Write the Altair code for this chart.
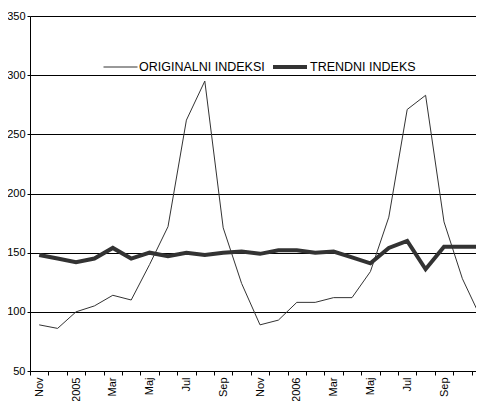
import altair as alt
import pandas as pd

month_labels = ["Nov", "Dec", "2005", "Feb", "Mar", "Apr", "Maj", "Jun", "Jul", "Avg",
                "Sep", "Okt", "Nov", "Dec", "2006", "Feb", "Mar", "Apr", "Maj", "Jun",
                "Jul", "Avg", "Sep", "Okt", "Nov"]
original = [89, 86, 100, 105, 114, 110, 140, 172, 262, 295, 171, 124, 89, 93, 108, 108,
            112, 112, 134, 180, 271, 283, 176, 128, 95]
trend = [148, 145, 142, 145, 154, 145, 150, 147, 150, 148, 150, 151, 149, 152, 152, 150,
         151, 146, 141, 154, 160, 136, 155, 155, 155]
series_names = ["ORIGINALNI INDEKSI", "TRENDNI INDEKS"]
y_ticks = [50, 100, 150, 200, 250, 300, 350]

rows = []
for i in range(len(month_labels)):
    rows.append({"idx": i, "series": series_names[0], "value": original[i]})
    rows.append({"idx": i, "series": series_names[1], "value": trend[i]})
df = pd.DataFrame(rows)

n = len(month_labels)
label_values = list(range(0, n, 2))
tick_values = [i - 0.5 for i in range(n + 1)]
tick_df = pd.DataFrame({"pos": tick_values})
label_expr = "[" + ",".join("'" + s + "'" for s in month_labels) + "][datum.value]"

FONT = "Liberation Sans"
PLOT_W = 446
STEP = 18.4
xs = alt.Scale(domain=[-0.5, -0.5 + PLOT_W / STEP], nice=False, zero=False)

lines = alt.Chart(df).mark_line(color="#333333", clip=True, strokeJoin="miter").encode(
    x=alt.X("idx:Q", scale=xs,
            axis=alt.Axis(title=None, orient="bottom", values=label_values,
                          labelExpr=label_expr, labelAngle=-90, ticks=False,
                          domainColor="#000000", labelColor="#000000", labelFontSize=11,
                          labelFont=FONT, labelPadding=6, grid=False, labelAlign="right",
                          labelBaseline="middle", labelFlush=False, labelOverlap=False,
                          labelBound=False)),
    y=alt.Y("value:Q",
            scale=alt.Scale(domain=[50, 350], nice=False, zero=False),
            axis=alt.Axis(title=None, values=y_ticks, tickSize=3, tickColor="#000000",
                          domainColor="#000000", labelColor="#000000", labelFontSize=11,
                          labelFont=FONT, labelPadding=2, grid=True, gridColor="#000000",
                          gridOpacity=1, gridWidth=1)),
    strokeWidth=alt.StrokeWidth("series:N",
            scale=alt.Scale(domain=series_names, range=[1, 4]),
            legend=alt.Legend(title=None, orient="none", legendX=73, legendY=32,
                              direction="horizontal", symbolType="stroke", symbolSize=1156,
                              symbolStrokeColor="#333333", labelFontSize=12.5,
                              labelFont=FONT, labelColor="#000000", labelOffset=1,
                              columnPadding=0, padding=0)),
    detail="series:N",
)

ticks = alt.Chart(tick_df).mark_point(opacity=0).encode(
    x=alt.X("pos:Q", scale=xs,
            axis=alt.Axis(title=None, orient="bottom", values=tick_values, labels=False,
                          tickSize=4, tickColor="#000000", domain=False, grid=False)),
)

chart = alt.layer(lines, ticks).resolve_axis(x="independent").properties(
    width=PLOT_W, height=355,
    autosize=alt.AutoSizeParams(type="none"),
    padding={"left": 22, "top": 8, "right": 0, "bottom": 30},
    background="#ffffff",
).configure_view(strokeWidth=0)

chart.save("out.html", embed_options={"renderer": "svg", "actions": False})
